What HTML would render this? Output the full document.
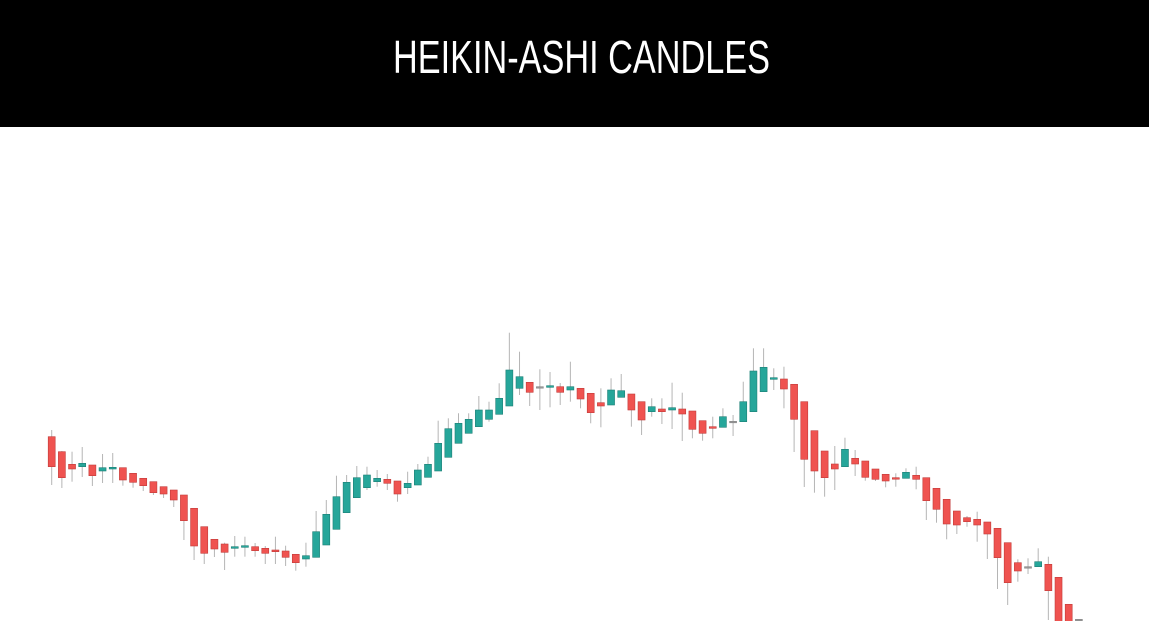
<!DOCTYPE html>
<html><head><meta charset="utf-8"><style>
html,body{margin:0;padding:0;background:#fff;width:1149px;height:635px;overflow:hidden}
</style></head><body>
<svg id="chart" width="1149" height="635" xmlns="http://www.w3.org/2000/svg">
<rect x="0" y="0" width="1149" height="127" fill="#000"/>
<text x="581.5" y="73" text-anchor="middle" fill="#fff" font-family="Liberation Sans, sans-serif" font-size="46" textLength="377" lengthAdjust="spacingAndGlyphs">HEIKIN-ASHI CANDLES</text>
<defs><clipPath id="plotclip"><rect x="0" y="127" width="1149" height="494"/></clipPath></defs>
<g id="candles" clip-path="url(#plotclip)"></g>
</svg>
<script>
const opens=[203.3,188.3,175.7,173.3,175,169,171,172.3,166.7,161.7,158.3,153.3,150,145,131.7,113.3,100.7,96,91.7,92.7,93.3,91.7,90,89,85.7,81,82.7,95,110.7,127.3,142.3,152.3,158.3,160.7,159,152.3,155,162.7,169,182.7,196.7,206.7,213.3,220.7,225.7,234,251.7,257.7,253.3,252.7,253.3,250,251.7,246.7,237.3,235,242.7,246,238.3,228.3,231,230,231,229,219.3,213.3,212.7,218.7,218.3,228.3,248.3,260.7,261,255.7,238.3,209.3,189,176,173.3,181.7,179,171,165.7,162.3,161.7,164.7,162.3,151.7,140.7,129,122.3,120.7,118,111.7,97.3,77.3,73.3,73.3,75.7,62.7,35.7,20.7];
const closes=[173.3,162.3,171,176.7,164.3,172.3,172.7,160,157.7,154.3,147.3,146,140,119.3,94,86.7,91,87.7,93.3,94.3,89.3,86.7,88.3,82.7,77.3,84.3,108.3,125.7,143.3,157.7,162.3,165,161.7,156.7,146,156.7,170,175.7,196.7,211.3,216.7,220.7,230,230,241.7,270,263.3,247.7,253.3,254.3,247.7,253.3,241,227.3,234,250,249.3,230,220,233.3,228.3,232.3,226,210.7,206.7,211.7,223.3,218.7,238.3,269,272.7,262.3,251,220.7,180.7,169,162.3,171,190.7,176,162.7,160.7,159,161,167.7,160.7,139.3,130.7,116,115,118.3,115,106,82.3,57.3,69,73.3,78.3,49.3,15,15,20.7];
const highs=[210,189,188.3,193,175,186,187,172.3,166.7,161.7,158.3,153.3,150,145,131.7,113.3,100.7,97.3,104,103.3,97,94,103.3,94.3,85.7,97.3,129,140,164.3,165,174,173.3,170,166,159,168.3,176,183.3,219.3,221.7,226.7,226.7,244,238.3,256.7,307.3,288.3,258,270.7,268,257,278.3,251.7,246.7,251.7,261.7,266,246,238.3,241.7,241.7,257.3,247.3,229,219.3,223.3,231.7,225,258.3,291.7,291.7,271.7,273.3,255.7,238.3,209.3,189,194,202.3,190,179,171,165.7,166.7,171.7,173.3,162.3,151.7,140.7,129,124,128.3,118,111.7,97.3,80.7,81.7,91.7,83.3,62.7,35.7,20.7];
const lows=[155,152,158.3,163,154,157,157,154.3,152.3,149,145,142,133,100,80,76,83,70,83.3,83.3,83.3,76,76,74,69.3,73.3,82.7,95,110.7,127.3,142.3,150,153.3,150,138.3,146,155,162.7,169,182.7,196.7,206.7,213.3,218.3,225.7,234,245,234,230,232.7,235,238.3,231.7,216.7,212.7,235,242.7,213.3,205,223.3,216,211,199,201.7,199.3,201.7,212.7,204,218.3,228.3,248.3,250,231.7,188,153,147.3,143.3,150,173.3,164,159.3,159,152.7,153.3,161.7,150.7,120,117.3,100.7,106,113.3,98.3,81,51,35,58.3,66,73.3,20,10,10,20.7];

const x0=51.7, step=10.17, bodyW=7;
function xScale(i){return x0+step*i;}
function yScale(v){return 640-v;}
const NS='http://www.w3.org/2000/svg';
const g=document.getElementById('candles');
for(let i=0;i<opens.length;i++){
  const o=opens[i],c=closes[i],h=highs[i],l=lows[i];
  const up=c>o, flat=Math.abs(c-o)<0.01;
  const fill=flat?'#999':(up?'#26a69a':'#ef5350');
  const stroke=flat?'#888':(up?'#1d7f76':'#c23b39');
  const x=xScale(i);
  const wick=document.createElementNS(NS,'line');
  
  
  wick.setAttribute('x1',x);wick.setAttribute('x2',x);
  wick.setAttribute('y1',yScale(h));wick.setAttribute('y2',yScale(l));
  wick.setAttribute('stroke','#b5b5b5');wick.setAttribute('stroke-width','1');
  g.appendChild(wick);
  const top=yScale(Math.max(o,c)), bot=yScale(Math.min(o,c));
  const body=document.createElementNS(NS,'rect');
  
  
  body.setAttribute('x',x-bodyW/2);body.setAttribute('y',top);
  body.setAttribute('width',bodyW);body.setAttribute('height',Math.max(1.5,bot-top));
  body.setAttribute('fill',fill);body.setAttribute('stroke',stroke);body.setAttribute('stroke-width','0.6');
  g.appendChild(body);
}
</script>
</body></html>
